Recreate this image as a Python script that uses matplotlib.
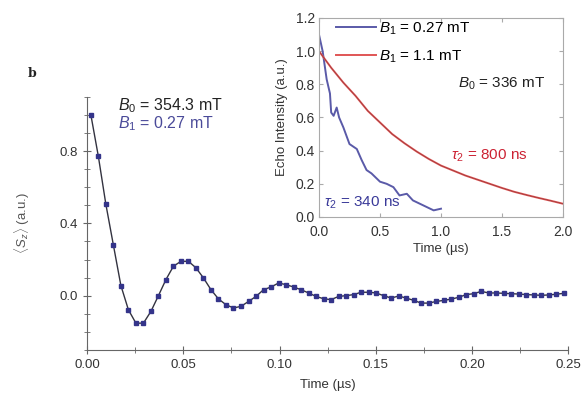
import numpy as np
import matplotlib
matplotlib.use("Agg")
import matplotlib.pyplot as plt
from matplotlib.ticker import MultipleLocator

plt.rcParams["font.family"] = ["Liberation Sans", "DejaVu Sans"]
plt.rcParams["mathtext.fontset"] = "custom"
plt.rcParams["mathtext.rm"] = "Liberation Sans"
plt.rcParams["mathtext.it"] = "Liberation Sans:italic"

# main panel: <S_z> vs time, sampled every 3.9 ns starting at 2 ns
t0 = 0.002
dt = 0.0039
sz = [1.00, 0.77, 0.505, 0.28, 0.056, -0.078, -0.152, -0.152, -0.087, 0.0,
      0.089, 0.163, 0.19, 0.19, 0.154, 0.098, 0.033, -0.018, -0.05, -0.068,
      -0.059, -0.032, -0.004, 0.033, 0.048, 0.07, 0.061, 0.048, 0.033, 0.015,
      -0.004, -0.017, -0.022, -0.004, 0.0, 0.006, 0.019, 0.019, 0.015, 0.0,
      -0.013, -0.002, -0.013, -0.026, -0.041, -0.041, -0.032, -0.026, -0.019, -0.009,
      0.006, 0.011, 0.024, 0.015, 0.015, 0.013, 0.011, 0.009, 0.006, 0.004,
      0.002, 0.004, 0.008, 0.013]
t_main = t0 + dt * np.arange(len(sz))

# inset: echo decay
t_red = [0.0, 0.1, 0.2, 0.3, 0.4, 0.5, 0.6, 0.7, 0.8, 0.9, 1.0, 1.1, 1.2, 1.3,
         1.4, 1.5, 1.6, 1.7, 1.8, 1.9, 2.0]
echo_red = [1.0, 0.9, 0.81, 0.73, 0.64, 0.57, 0.5, 0.445, 0.395, 0.35, 0.31, 0.28,
            0.25, 0.225, 0.2, 0.175, 0.152, 0.133, 0.115, 0.098, 0.08]
t_blue = [0.0, 0.03, 0.063, 0.09, 0.10, 0.12, 0.145, 0.165, 0.2, 0.25, 0.31, 0.35,
          0.39, 0.43, 0.5, 0.555, 0.61, 0.66, 0.72, 0.77, 0.855, 0.94, 1.0]
echo_blue = [1.1, 1.0, 0.83, 0.745, 0.63, 0.61, 0.66, 0.6, 0.54, 0.44, 0.41, 0.343,
             0.283, 0.263, 0.213, 0.2, 0.18, 0.13, 0.14, 0.1, 0.07, 0.04, 0.05]

fig = plt.figure(figsize=(5.84, 4.05), dpi=100)
ax = fig.add_axes([0.149, 0.136, 0.824, 0.625])
ax.plot(t_main, sz, color="#333340", lw=1.0, zorder=2)
ax.plot(t_main, sz, ls="none", marker="s", ms=3.2, color="#34348a", zorder=3)
ax.set_xlim(0, 0.25)
ax.set_ylim(-0.3, 1.1)
ax.xaxis.set_major_locator(MultipleLocator(0.05))
ax.xaxis.set_minor_locator(MultipleLocator(0.025))
ax.yaxis.set_minor_locator(MultipleLocator(0.1))
ax.set_yticks([0.0, 0.4, 0.8])
ax.xaxis.set_major_formatter(matplotlib.ticker.FormatStrFormatter("%.2f"))
ax.yaxis.set_major_formatter(matplotlib.ticker.FormatStrFormatter("%.1f"))
for s in ["top", "right"]:
    ax.spines[s].set_visible(False)
for s in ["left", "bottom"]:
    ax.spines[s].set_color("#666666")
ax.tick_params(which="both", direction="inout", colors="#666666", labelcolor="#333333",
               labelsize=9.5)
ax.tick_params(which="major", length=6)
ax.tick_params(which="minor", length=5)
ax.set_xlabel("Time (µs)", fontsize=9.5, color="#333333", labelpad=6)
ax.set_ylabel(r"$\langle S_z\rangle$ (a.u.)", fontsize=9.5, color="#555555", labelpad=20)
ax.text(0.016, 1.05, r"$B_0$ = 354.3 mT", fontsize=11.5, color="#222222", va="center")
ax.text(0.016, 0.95, r"$B_1$ = 0.27 mT", fontsize=11.5, color="#4a4a99", va="center")
fig.text(0.047, 0.81, "b", fontsize=9, fontweight="bold", family="DejaVu Serif",
         color="#222222")

# inset
ins = fig.add_axes([0.5462, 0.4642, 0.4178, 0.4914])
ins.plot(t_blue, echo_blue, color="#5a5aa8", lw=1.4, label=r"$B_1$ = 0.27 mT")
ins.plot(t_red, echo_red, color="#e05555", lw=1.4, label=r"$B_1$ = 1.1 mT")
ins.plot(t_red, echo_red, color="#552222", lw=0.4, alpha=0.6)
ins.set_xlim(0, 2.0)
ins.set_ylim(0, 1.2)
ins.xaxis.set_major_locator(MultipleLocator(0.5))
ins.yaxis.set_major_locator(MultipleLocator(0.2))
for s in ins.spines.values():
    s.set_color("#aaaaaa")
    s.set_linewidth(0.8)
ins.tick_params(which="both", direction="in", length=3, colors="#aaaaaa",
                labelcolor="#333333", labelsize=10, top=True, right=True)
ins.tick_params(axis="x", pad=6)
ins.tick_params(axis="y", pad=3)
ins.set_xlabel("Time (µs)", fontsize=9.5, color="#333333", labelpad=3)
ins.set_ylabel("Echo Intensity (a.u.)", fontsize=9.5, color="#333333", labelpad=5)
ins.legend(loc="upper left", frameon=False, fontsize=11, handlelength=2.6,
           handletextpad=0.2, borderaxespad=0.1, labelspacing=0.75,
           bbox_to_anchor=(0.04, 1.025))
ins.text(0.57, 0.67, r"$B_0$ = 336 mT", transform=ins.transAxes, fontsize=11,
         color="#222222", va="center")
ins.text(0.54, 0.31, r"$\tau_2$ = 800 ns", transform=ins.transAxes, fontsize=11,
         color="#cc2233", va="center")
ins.text(0.02, 0.07, r"$\tau_2$ = 340 ns", transform=ins.transAxes, fontsize=11,
         color="#3a3a99", va="center")

fig.savefig("out.png", dpi=100)
